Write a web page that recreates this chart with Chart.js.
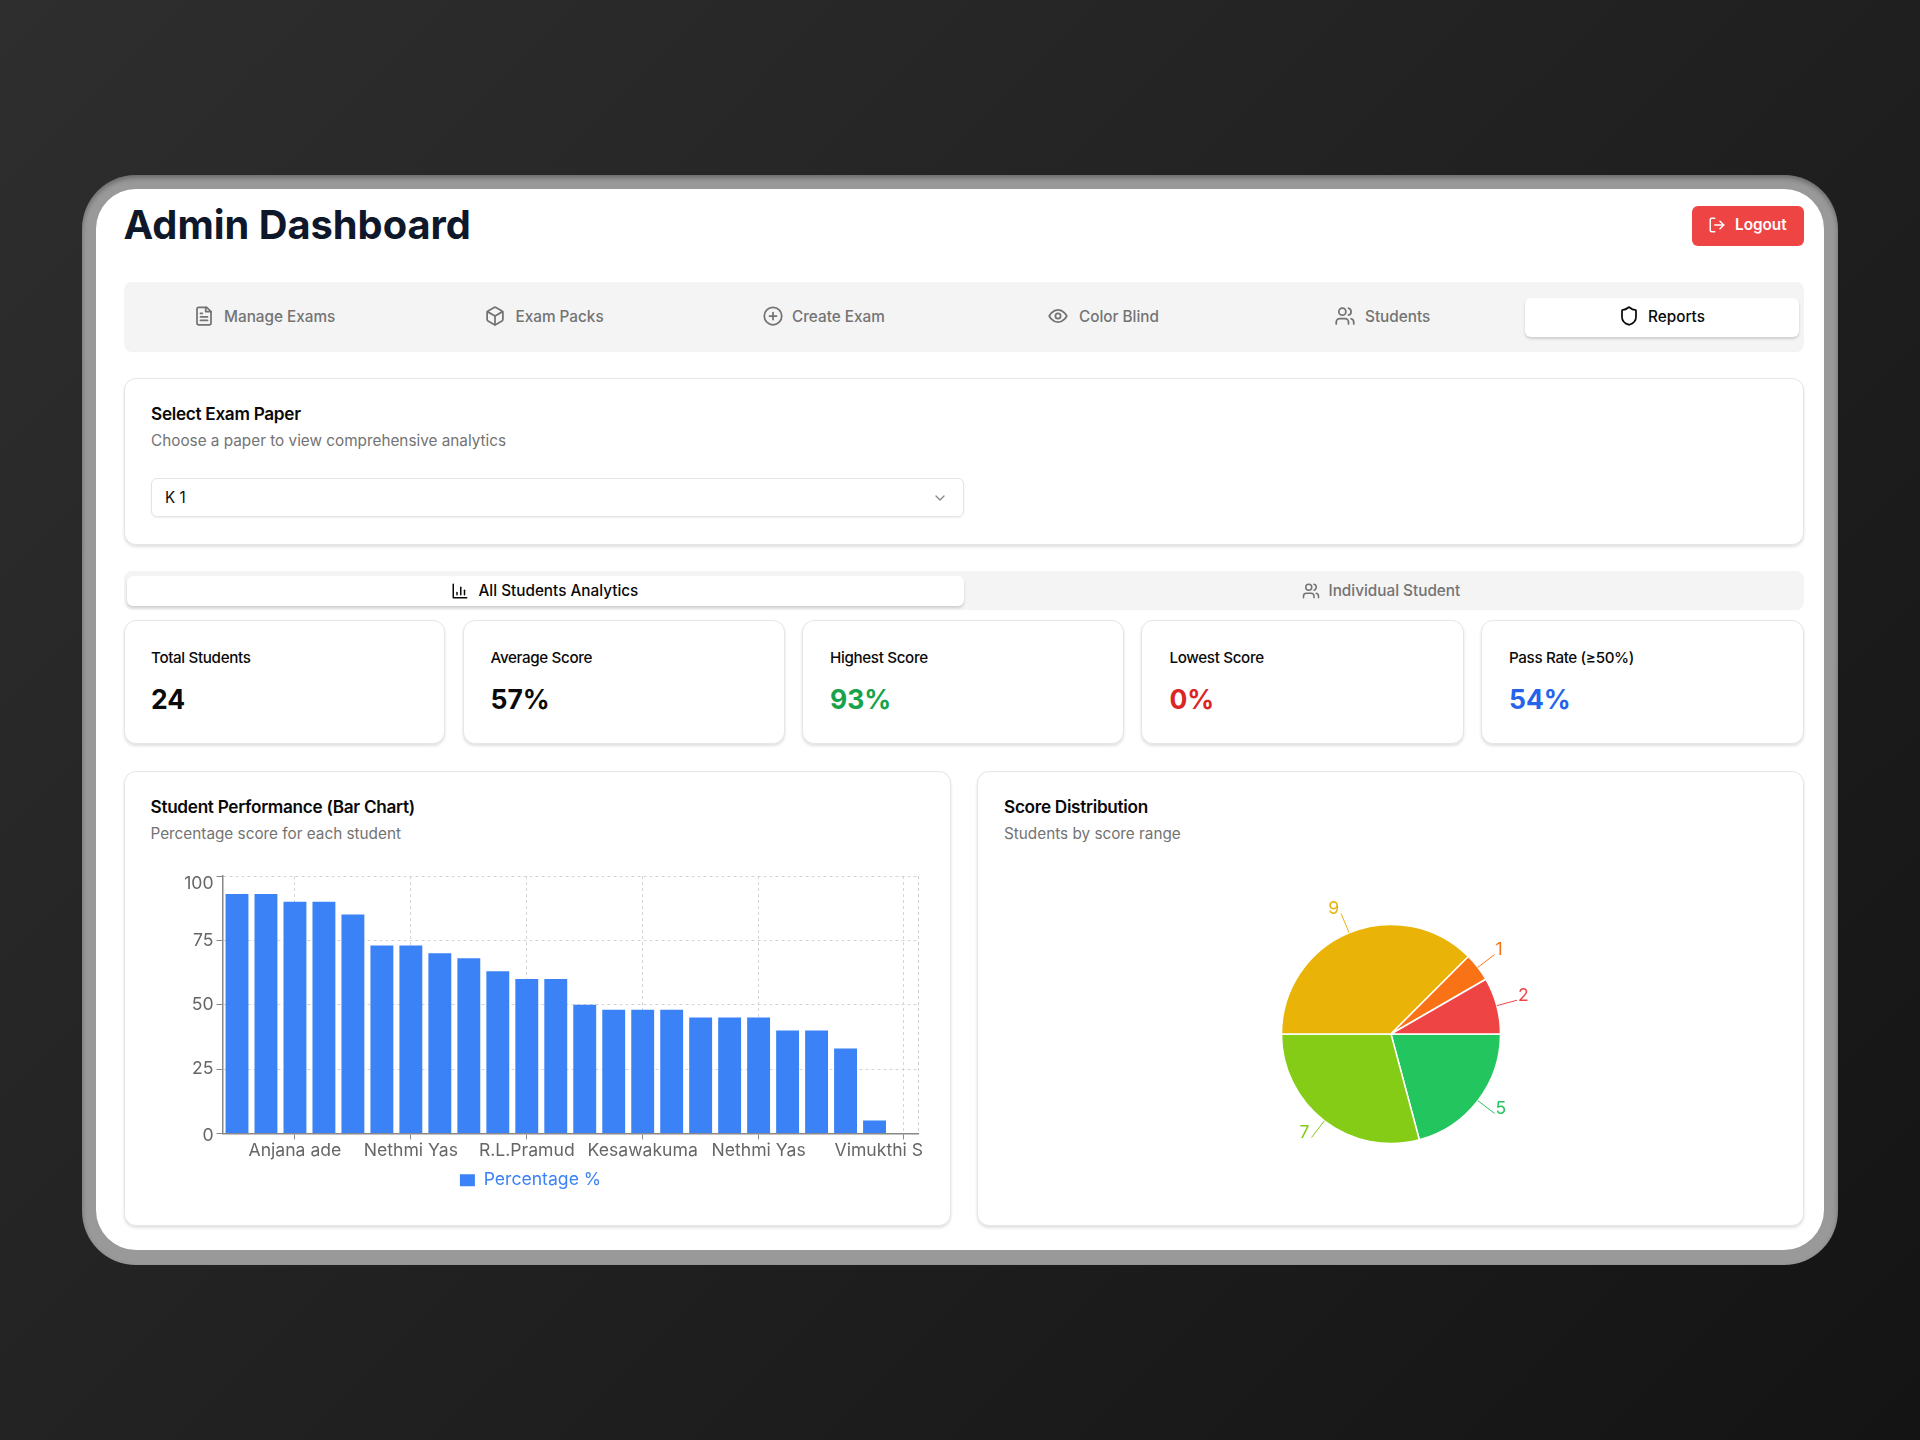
<!DOCTYPE html>
<html><head><meta charset="utf-8">
<script src="https://cdn.jsdelivr.net/npm/chart.js@4"></script>
<style>
*{box-sizing:border-box}
html,body{margin:0;padding:0}
body{width:1920px;height:1440px;position:relative;overflow:hidden;background:linear-gradient(135deg,#2e2e2e 0%,#212121 50%,#141414 100%);font-family:Inter,sans-serif}
.a{position:absolute}
.frame{left:82px;top:175px;width:1756px;height:1090px;background:#999;border-radius:54px;box-shadow:inset 0 3px 5px rgba(0,0,0,.3)}
.screen{left:96px;top:189px;width:1728px;height:1061px;background:#fff;border-radius:40px}
.t{position:absolute;white-space:nowrap;transform:translateY(-50%);line-height:1.2}
.card{position:absolute;background:#fff;border:1.5px solid #e6e6e6;border-radius:12px;box-shadow:0 2px 3px rgba(0,0,0,.12)}
.bar{position:absolute;background:#f4f4f5;border-radius:8px}
.active{position:absolute;background:#fff;border-radius:6px;box-shadow:0 2px 3px rgba(0,0,0,.16)}
svg.i{position:absolute;transform:translate(-50%,-50%);fill:none;stroke-width:2;stroke-linecap:round;stroke-linejoin:round}
canvas{position:absolute;display:block}
.nav{font-size:15.3px;font-weight:500;color:#737373}
.h3{font-size:17.2px;font-weight:600;color:#0a0a0a;letter-spacing:-.3px}
.sub{font-size:15.3px;color:#737373}
.lab{font-size:15.2px;font-weight:500;color:#0a0a0a;letter-spacing:-.35px}
.val{font-size:26.5px;font-weight:700}
</style></head><body>
<div class="a frame"></div>
<div class="a screen"></div>

<div class="t" style="left:123.500px;top:225px;font-size:39.8px;font-weight:700;color:#0f172a">Admin Dashboard</div>

<div class="a" style="left:1691.500px;top:206px;width:112.500px;height:40px;background:#ef4444;border-radius:6px"></div>
<svg class="i" style="left:1717px;top:225px" width="18" height="18" viewBox="0 0 24 24" stroke="#fff"><path d="M9 21H5a2 2 0 0 1-2-2V5a2 2 0 0 1 2-2h4"/><polyline points="16 17 21 12 16 7"/><line x1="21" y1="12" x2="9" y2="12"/></svg>
<div class="t" style="left:1735px;top:225px;font-size:15.300px;font-weight:600;color:#fff">Logout</div>

<div class="bar" style="left:124px;top:282px;width:1680px;height:70px"></div>
<div class="active" style="left:1525px;top:298px;width:274px;height:39px"></div>

<svg class="i" style="left:204px;top:316px" width="21" height="21" viewBox="0 0 24 24" stroke="#737373"><path d="M15 2H6a2 2 0 0 0-2 2v16a2 2 0 0 0 2 2h12a2 2 0 0 0 2-2V7z"/><path d="M14 2v5h6"/><line x1="16" y1="13" x2="8" y2="13"/><line x1="16" y1="17" x2="8" y2="17"/><line x1="10" y1="9" x2="8" y2="9"/></svg>
<div class="t nav" style="left:224px;top:317px">Manage Exams</div>
<svg class="i" style="left:495px;top:316px" width="21" height="21" viewBox="0 0 24 24" stroke="#737373"><path d="M21 8a2 2 0 0 0-1-1.730l-7-4a2 2 0 0 0-2 0l-7 4A2 2 0 0 0 3 8v8a2 2 0 0 0 1 1.730l7 4a2 2 0 0 0 2 0l7-4A2 2 0 0 0 21 16z"/><path d="M3.300 7 12 12l8.700-5"/><path d="M12 22V12"/></svg>
<div class="t nav" style="left:515.500px;top:317px">Exam Packs</div>
<svg class="i" style="left:773px;top:316px" width="21" height="21" viewBox="0 0 24 24" stroke="#737373"><circle cx="12" cy="12" r="10"/><line x1="12" y1="8" x2="12" y2="16"/><line x1="8" y1="12" x2="16" y2="12"/></svg>
<div class="t nav" style="left:792px;top:317px">Create Exam</div>
<svg class="i" style="left:1058px;top:316px" width="21" height="21" viewBox="0 0 24 24" stroke="#737373"><path d="M2 12s3.500-7 10-7 10 7 10 7-3.500 7-10 7-10-7-10-7z"/><circle cx="12" cy="12" r="3"/></svg>
<div class="t nav" style="left:1079px;top:317px">Color Blind</div>
<svg class="i" style="left:1345px;top:316px" width="21" height="21" viewBox="0 0 24 24" stroke="#737373"><path d="M16 21v-2a4 4 0 0 0-4-4H6a4 4 0 0 0-4 4v2"/><circle cx="9" cy="7" r="4"/><path d="M22 21v-2a4 4 0 0 0-3-3.870"/><path d="M16 3.130a4 4 0 0 1 0 7.750"/></svg>
<div class="t nav" style="left:1365px;top:317px">Students</div>
<svg class="i" style="left:1629px;top:316px" width="21" height="21" viewBox="0 0 24 24" stroke="#0a0a0a"><path d="M20 13c0 5-3.500 7.500-7.660 8.950a1 1 0 0 1-.67-.01C7.500 20.500 4 18 4 13V6a1 1 0 0 1 1-1c2 0 4.500-1.200 6.240-2.720a1.170 1.170 0 0 1 1.520 0C14.510 3.810 17 5 19 5a1 1 0 0 1 1 1z"/></svg>
<div class="t nav" style="left:1648px;top:317px;color:#0a0a0a">Reports</div>

<div class="card" style="left:124px;top:378px;width:1680px;height:167px"></div>
<div class="t h3" style="left:151px;top:414px">Select Exam Paper</div>
<div class="t sub" style="left:151px;top:441px">Choose a paper to view comprehensive analytics</div>
<div class="a" style="left:151px;top:478px;width:813px;height:39px;border:1.5px solid #e4e4e4;border-radius:6px;box-shadow:0 1px 2px rgba(0,0,0,.07)"></div>
<div class="t" style="left:165px;top:498px;font-size:15.2px;color:#0a0a0a">K 1</div>
<svg class="i" style="left:940px;top:498px" width="16" height="16" viewBox="0 0 24 24" stroke="#8a8a8a"><path d="m6 9 6 6 6-6"/></svg>

<div class="bar" style="left:124px;top:571px;width:1680px;height:39px"></div>
<div class="active" style="left:127px;top:576px;width:837px;height:30px"></div>
<svg class="i" style="left:460px;top:591px" width="18" height="18" viewBox="0 0 24 24" stroke="#0a0a0a"><path d="M3 3v18h18"/><path d="M8 17v-3"/><path d="M13 17V7"/><path d="M18 17v-6"/></svg>
<div class="t nav" style="left:478.500px;top:591px;color:#0a0a0a">All Students Analytics</div>
<svg class="i" style="left:1311px;top:591px" width="18" height="18" viewBox="0 0 24 24" stroke="#737373"><path d="M16 21v-2a4 4 0 0 0-4-4H6a4 4 0 0 0-4 4v2"/><circle cx="9" cy="7" r="4"/><path d="M22 21v-2a4 4 0 0 0-3-3.870"/><path d="M16 3.130a4 4 0 0 1 0 7.750"/></svg>
<div class="t nav" style="left:1328.500px;top:591px">Individual Student</div>

<div class="card" style="left:124px;top:620px;width:321px;height:124px"></div>
<div class="card" style="left:463px;top:620px;width:322px;height:124px"></div>
<div class="card" style="left:802px;top:620px;width:322px;height:124px"></div>
<div class="card" style="left:1141px;top:620px;width:323px;height:124px"></div>
<div class="card" style="left:1481px;top:620px;width:323px;height:124px"></div>
<div class="t lab" style="left:151px;top:658px">Total Students</div>
<div class="t val" style="left:151px;top:700px;color:#0a0a0a">24</div>
<div class="t lab" style="left:490.500px;top:658px">Average Score</div>
<div class="t val" style="left:490.500px;top:700px;color:#0a0a0a">57%</div>
<div class="t lab" style="left:830px;top:658px">Highest Score</div>
<div class="t val" style="left:830px;top:700px;color:#16a34a">93%</div>
<div class="t lab" style="left:1169.500px;top:658px">Lowest Score</div>
<div class="t val" style="left:1169.500px;top:700px;color:#dc2626">0%</div>
<div class="t lab" style="left:1509px;top:658px">Pass Rate (≥50%)</div>
<div class="t val" style="left:1509px;top:700px;color:#2563eb">54%</div>

<div class="card" style="left:124px;top:771px;width:827px;height:455px"></div>
<div class="card" style="left:977px;top:771px;width:827px;height:455px"></div>
<div class="t h3" style="left:150.500px;top:807px">Student Performance (Bar Chart)</div>
<div class="t sub" style="left:150.500px;top:834px">Percentage score for each student</div>
<div class="t h3" style="left:1004px;top:807px">Score Distribution</div>
<div class="t sub" style="left:1004px;top:834px">Students by score range</div>

<canvas id="barChart" width="787" height="333" style="left:142.500px;top:866px;width:787px;height:333px"></canvas>
<canvas id="pieChart" width="400" height="320" style="left:1191px;top:874px;width:400px;height:320px"></canvas>

<script>
// Only the names the axis shows can be read; the others stay blank.
const studentNames = ['', '', 'Anjana ade', '', '', '', 'Nethmi Yas', '', '', '', 'R.L.Pramud', '', '', '', 'Kesawakuma', '', '', '', 'Nethmi Yas', '', '', '', '', 'Vimukthi S'];
const percentages = [93, 93, 90, 90, 85, 73, 73, 70, 68, 63, 60, 60, 50, 48, 48, 48, 45, 45, 45, 40, 40, 33, 5, 0];
const seriesName = 'Percentage %';
const yTicks = [0, 25, 50, 75, 100];
const rangeNames = ['Band A', 'Band B', 'Band C', 'Band D', 'Band E'];
const rangeCounts = [5, 7, 9, 1, 2];
const rangeColors = ['#22c55e', '#84cc16', '#eab308', '#f97316', '#ef4444'];

Chart.defaults.font.family = 'Inter, sans-serif';
Chart.defaults.animation = false;

const zeroPadding = s => { s.paddingLeft = s.paddingRight = s.paddingTop = s.paddingBottom = 0; };

const rightEdgeGrid = {
  id: 'rightEdgeGrid',
  beforeDatasetsDraw(chart) {
    const {ctx, chartArea: a} = chart;
    ctx.save();
    ctx.strokeStyle = '#cfcfcf';
    ctx.lineWidth = 1;
    ctx.setLineDash([3, 3]);
    ctx.beginPath();
    ctx.moveTo(a.right + .5, a.top);
    ctx.lineTo(a.right + .5, a.bottom);
    ctx.stroke();
    ctx.restore();
  }
};

new Chart(document.getElementById('barChart'), {
  type: 'bar',
  data: {
    labels: studentNames,
    datasets: [{label: seriesName, data: percentages, backgroundColor: '#3b82f6', barPercentage: 0.79, categoryPercentage: 1}]
  },
  plugins: [rightEdgeGrid],
  options: {
    responsive: false,
    devicePixelRatio: 1,
    layout: {autoPadding: false, padding: {top: 10, right: 12, left: 0, bottom: 0}},
    plugins: {
      tooltip: {enabled: false},
      legend: {
        position: 'bottom',
        labels: {boxWidth: 15, boxHeight: 12, padding: 8, color: '#3b82f6', font: {size: 17.6}}
      }
    },
    scales: {
      x: {
        offset: true,
        afterBuildTicks: s => { s.ticks = s.ticks.filter(t => studentNames[t.value]); },
        afterFit: s => { s.height = 30; zeroPadding(s); },
        grid: {offset: false, color: '#d4d4d4', tickColor: '#888', tickLength: 6, lineWidth: 1},
        border: {color: '#888', width: 1.5, dash: [3, 3]},
        ticks: {
          autoSkip: false, maxRotation: 0, minRotation: 0, padding: 1, color: '#666', font: {size: 17.6},
          // the last name is pulled left to stay inside the plot, as in the reference
          callback: v => v === studentNames.length - 1 ? studentNames[v] + ' '.repeat(10) : studentNames[v]
        }
      },
      y: {
        min: 0, max: 100,
        afterBuildTicks: s => { s.ticks = yTicks.map(v => ({value: v})); },
        afterFit: s => { s.width = 79.5; zeroPadding(s); },
        grid: {color: '#d4d4d4', tickColor: '#888', tickLength: 6, lineWidth: 1},
        border: {color: '#888', width: 1.5, dash: [3, 3]},
        ticks: {
          padding: 3, color: '#666',
          font: c => ({size: 17.6, lineHeight: c.tick && c.tick.value === 100 ? '16px' : c.tick && c.tick.value === 0 ? '4px' : 1.2}),
          callback: v => (v === 100 || v === 0) ? ['', String(v)] : String(v)
        }
      }
    }
  }
});

const outerLabels = {
  id: 'outerLabels',
  afterDatasetsDraw(chart) {
    const {ctx} = chart;
    const ds = chart.data.datasets[0];
    chart.getDatasetMeta(0).data.forEach((arc, i) => {
      const mid = (arc.startAngle + arc.endAngle) / 2;
      const r = arc.outerRadius;
      const cx = Math.cos(mid), cy = Math.sin(mid);
      const x1 = arc.x + cx * r, y1 = arc.y + cy * r;
      const x2 = arc.x + cx * (r + 21), y2 = arc.y + cy * (r + 21);
      ctx.save();
      ctx.strokeStyle = ds.backgroundColor[i];
      ctx.lineWidth = 1;
      ctx.beginPath(); ctx.moveTo(x1, y1); ctx.lineTo(x2, y2); ctx.stroke();
      ctx.fillStyle = ds.backgroundColor[i];
      ctx.font = '17.6px Inter, sans-serif';
      ctx.textBaseline = 'middle';
      ctx.textAlign = cx >= 0 ? 'left' : 'right';
      ctx.fillText(String(ds.data[i]), x2 + (cx >= 0 ? 1 : -2), y2 - 5);
      ctx.restore();
    });
  }
};

new Chart(document.getElementById('pieChart'), {
  type: 'pie',
  data: {
    labels: rangeNames,
    datasets: [{data: rangeCounts, backgroundColor: rangeColors, borderColor: '#fff', borderWidth: 1.5, hoverOffset: 0}]
  },
  plugins: [outerLabels],
  options: {
    responsive: false,
    devicePixelRatio: 1,
    rotation: 90,
    radius: 109.5,
    layout: {padding: 0},
    plugins: {legend: {display: false}, tooltip: {enabled: false}}
  }
});
</script>
</body></html>
